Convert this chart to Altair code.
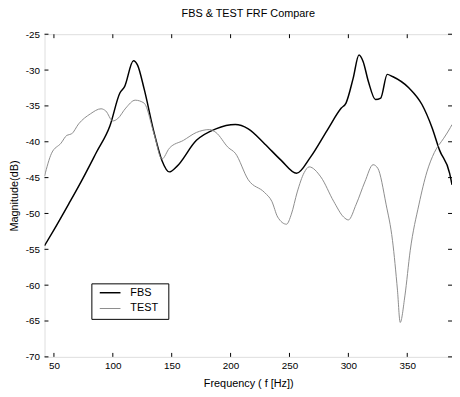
import altair as alt
import pandas as pd

FBS_FREQ = [42, 50, 62.5, 73, 86, 97.5, 106, 110, 117.5, 121, 126.7, 135, 141.7, 148, 154,
            171, 187.5, 204, 215, 229, 243, 256, 268, 282, 294, 298, 304, 309, 312.5, 317,
            323, 327.5, 333, 337.5, 351.5, 362.5, 371, 377.5, 386, 388]
FBS_DB = [-54.5, -52.3, -48.7, -45.6, -41.5, -37.8, -33.2, -32.3, -28.7, -29.3, -32.7, -38.7,
          -42.6, -44.2, -43.5, -39.8, -38.2, -37.6, -38.2, -40.3, -42.6, -44.4, -42.1, -38.4,
          -35.3, -34.6, -31.2, -27.9, -28.8, -31.6, -34.1, -33.9, -30.6, -30.9, -32.5, -34.8,
          -38.0, -41.2, -44.4, -46.0]

TEST_FREQ = [42, 48, 56, 61, 65, 71, 81, 90, 94, 100, 104, 111, 119, 126.5, 135, 141.7, 148,
             160, 171, 182, 187.5, 198, 204, 215, 229, 235, 240, 247.5, 251.6, 256.6, 262.5,
             266.7, 276.6, 287.5, 296, 300, 306.7, 314, 321, 325, 332, 337.5, 341.7, 344, 348,
             352.5, 360, 366.7, 373, 381, 386.7, 388]
TEST_DB = [-44.8, -41.6, -40.2, -39.1, -38.9, -37.5, -36.1, -35.4, -35.7, -37.1, -36.8, -35.3,
           -34.2, -34.6, -38.9, -42.4, -40.9, -39.8, -38.7, -38.3, -38.7, -40.8, -41.6, -45.3,
           -47.1, -48.3, -50.5, -51.5, -50.1, -47.0, -44.3, -43.5, -44.9, -48.3, -50.5, -50.9,
           -48.7, -45.6, -43.2, -43.7, -48.7, -53.8, -60.7, -65.2, -61.5, -55.2, -48.7, -44.2,
           -41.5, -39.5, -38.0, -37.6]

X_TICKS = [50, 100, 150, 200, 250, 300, 350]
Y_TICKS = [-70, -65, -60, -55, -50, -45, -40, -35, -30, -25]
SERIES = ["FBS", "TEST"]
COLORS = ["#000000", "#8c8c8c"]
WIDTHS = [1.5, 1.0]

rows = [{"freq": f, "db": d, "series": "FBS", "k": i} for i, (f, d) in enumerate(zip(FBS_FREQ, FBS_DB))]
rows += [{"freq": f, "db": d, "series": "TEST", "k": i} for i, (f, d) in enumerate(zip(TEST_FREQ, TEST_DB))]
df = pd.DataFrame(rows)

W, H = 413, 327
FONT = "Liberation Sans"
TL = 4

x_scale = alt.Scale(domain=[42, 388], nice=False, zero=False)
y_scale = alt.Scale(domain=[-70, -25], nice=False, zero=False)
x_axis = alt.Axis(values=X_TICKS, title="Frequency ( f [Hz])", tickSize=0,
                  domain=False, grid=False, labelPadding=4, titlePadding=7,
                  labelOverlap=False, titleFontWeight="normal")
y_axis = alt.Axis(values=Y_TICKS, title="Magnitude(dB)", tickSize=0, domain=False,
                  grid=False, labelPadding=5, titlePadding=6, labelOverlap=False,
                  titleFontWeight="normal", labelExpr="'-' + (-datum.value)")

lines = alt.Chart(df).mark_line(clip=True, interpolate="monotone").encode(
    x=alt.X("freq:Q", scale=x_scale, axis=x_axis),
    y=alt.Y("db:Q", scale=y_scale, axis=y_axis),
    color=alt.Color("series:N", scale=alt.Scale(domain=SERIES, range=COLORS), legend=None),
    strokeWidth=alt.StrokeWidth("series:N", scale=alt.Scale(domain=SERIES, range=WIDTHS), legend=None),
    order="k:Q",
)

xt = pd.DataFrame({"freq": X_TICKS})
yt = pd.DataFrame({"db": Y_TICKS})
bottom_ticks = alt.Chart(xt).mark_rule(color="black", strokeWidth=1).encode(
    x=alt.X("freq:Q", scale=x_scale, axis=x_axis), y=alt.value(H), y2=alt.value(H - TL))
top_ticks = alt.Chart(xt).mark_rule(color="black", strokeWidth=1).encode(
    x=alt.X("freq:Q", scale=x_scale, axis=x_axis), y=alt.value(0), y2=alt.value(TL))
left_ticks = alt.Chart(yt).mark_rule(color="black", strokeWidth=1).encode(
    y=alt.Y("db:Q", scale=y_scale, axis=y_axis), x=alt.value(0), x2=alt.value(TL))
right_ticks = alt.Chart(yt).mark_rule(color="black", strokeWidth=1).encode(
    y=alt.Y("db:Q", scale=y_scale, axis=y_axis), x=alt.value(W - TL), x2=alt.value(W))

# legend box (drawn manually, MATLAB style)
leg = pd.DataFrame({"series": SERIES})
LX0, LX1, LY0, LY1 = 48, 126, 253, 289
ROWS_Y = [262, 278]
legend_box = alt.Chart(leg.head(1)).mark_rect(fill="white", stroke="black", strokeWidth=1).encode(
    x=alt.value(LX0), x2=alt.value(LX1), y=alt.value(LY0), y2=alt.value(LY1))
legend_layers = [legend_box]
for i, s in enumerate(SERIES):
    one = leg[leg.series == s]
    legend_layers.append(alt.Chart(one).mark_rule(color=COLORS[i], strokeWidth=WIDTHS[i]).encode(
        x=alt.value(56), x2=alt.value(77), y=alt.value(ROWS_Y[i])))
    legend_layers.append(alt.Chart(one).mark_text(align="left", baseline="middle", font=FONT,
                                                  fontSize=11, color="black").encode(
        text="series:N", x=alt.value(87), y=alt.value(ROWS_Y[i])))

chart = alt.layer(lines, bottom_ticks, top_ticks, left_ticks, right_ticks, *legend_layers).properties(
    width=W, height=H,
    title=alt.TitleParams("FBS & TEST FRF Compare", fontSize=11, fontWeight="normal",
                          font=FONT, offset=10, anchor="middle", color="black"),
    padding={"left": 37, "top": 24, "right": 0, "bottom": 30},
    autosize=alt.AutoSizeParams(type="none"),
).configure_view(stroke="black", strokeWidth=1.2).configure_axis(
    labelFont=FONT, titleFont=FONT, labelFontSize=10.5, titleFontSize=10.5,
    labelColor="black", titleColor="black"
).configure(background="white")

chart.save("out.html", embed_options={"renderer": "svg", "actions": False})
